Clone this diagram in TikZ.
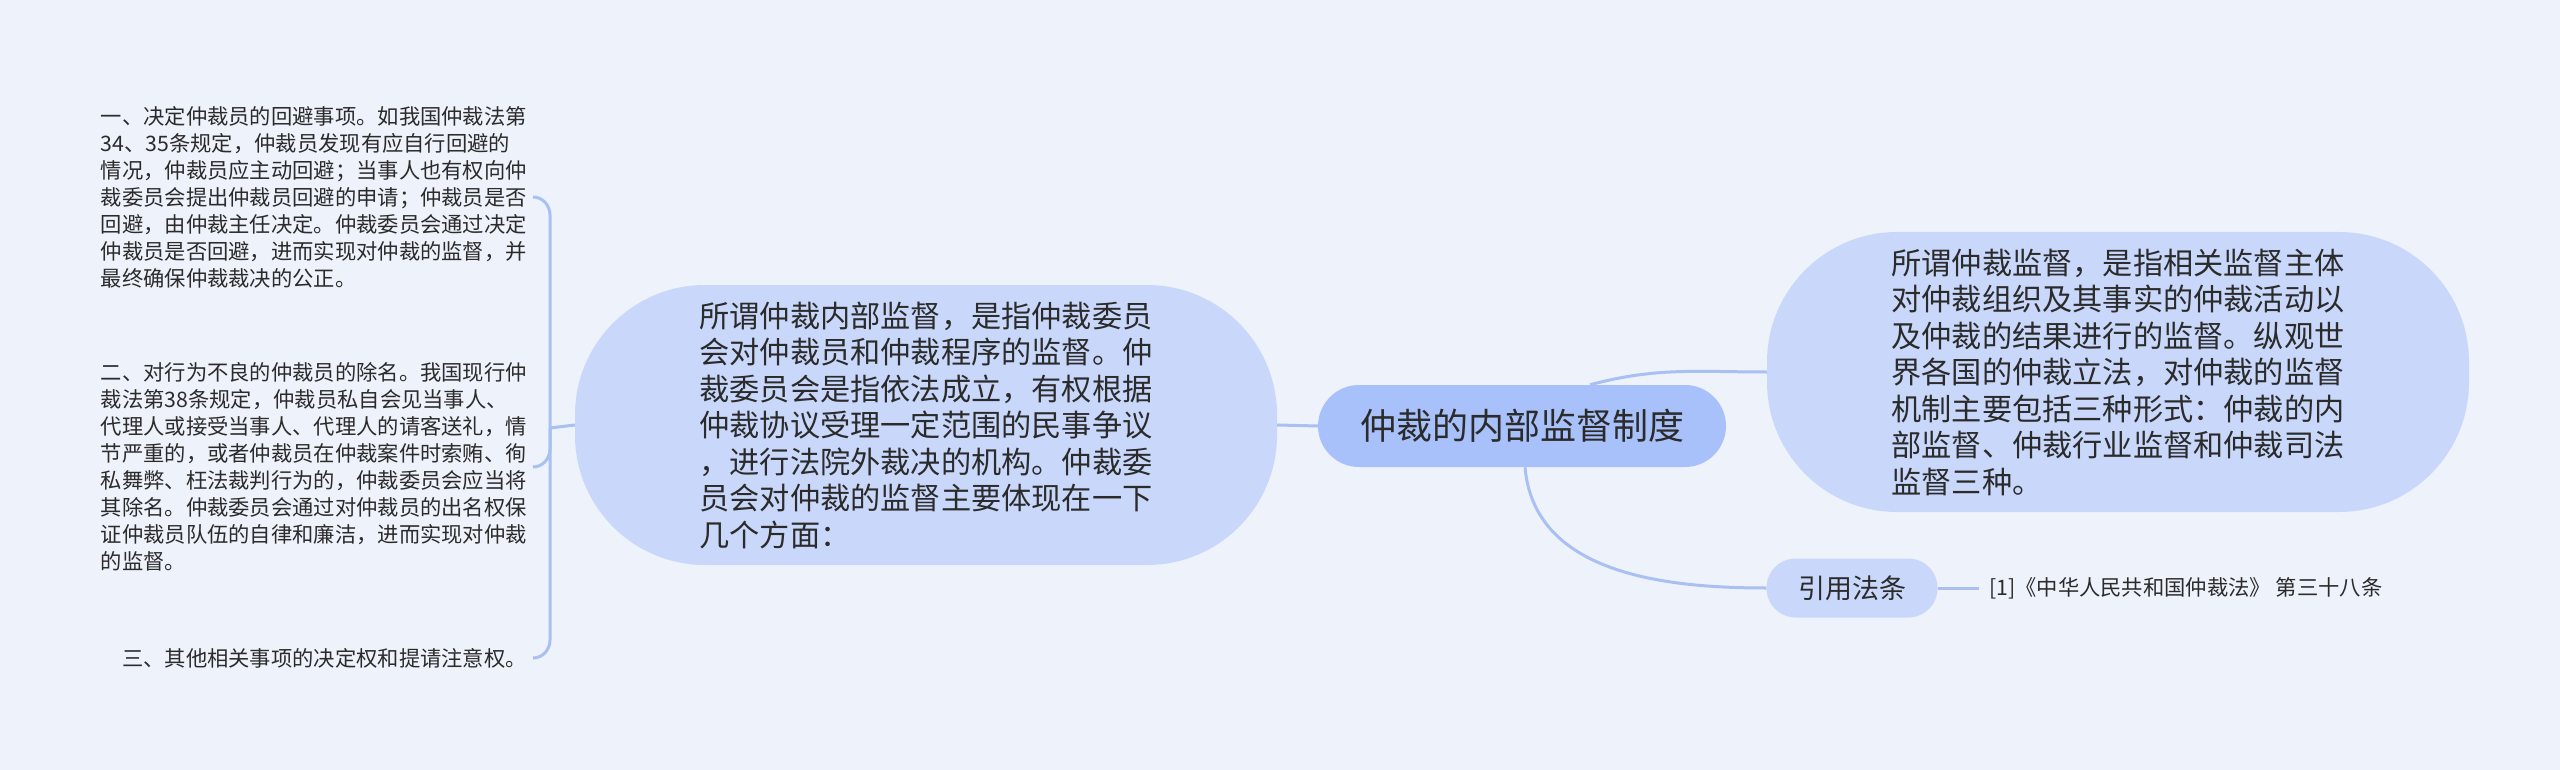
\documentclass[tikz,border=0pt]{standalone}
\usepackage{fontspec}
\setmainfont{Noto Sans CJK SC}
\definecolor{bgcol}{HTML}{EEF2FB}
\definecolor{rootcol}{HTML}{A9C1FA}
\definecolor{subcol}{HTML}{C9D8FA}
\definecolor{linecol}{HTML}{A9C0F2}
\definecolor{txtcol}{HTML}{2B2B2B}
\tikzstyle{root}=[rectangle,rounded corners=41pt,fill=rootcol,text=txtcol,minimum width=408pt,minimum height=82pt,inner sep=0pt,font=\fontsize{36}{43}\selectfont]
\tikzstyle{topic}=[rectangle,rounded corners=130pt,fill=subcol,text=txtcol,minimum width=702pt,minimum height=280pt,inner sep=0pt,align=left,font=\fontsize{30.2}{36.5}\selectfont]
\tikzstyle{tag}=[rectangle,rounded corners=29pt,fill=subcol,text=txtcol,minimum width=171pt,minimum height=59pt,inner sep=0pt,font=\fontsize{27}{32}\selectfont]
\tikzstyle{leaf}=[inner xsep=6pt,inner ysep=0pt,text=txtcol,align=left,font=\fontsize{21.3}{27}\selectfont]
\tikzstyle{link}=[draw=linecol,line width=3pt]

\begin{document}
\begin{tikzpicture}[x=1pt,y=1pt]
\fill[bgcol] (0,0) rectangle (2560,-770);
\node[root] at (1522,-426) (root) {仲裁的内部监督制度};
\node[topic] at (926,-425) (inner) {所谓仲裁内部监督，是指仲裁委员\\会对仲裁员和仲裁程序的监督。仲\\裁委员会是指依法成立，有权根据\\仲裁协议受理一定范围的民事争议\\，进行法院外裁决的机构。仲裁委\\员会对仲裁的监督主要体现在一下\\几个方面：};
\node[topic] at (2118,-372) (outer) {所谓仲裁监督，是指相关监督主体\\对仲裁组织及其事实的仲裁活动以\\及仲裁的结果进行的监督。纵观世\\界各国的仲裁立法，对仲裁的监督\\机制主要包括三种形式：仲裁的内\\部监督、仲裁行业监督和仲裁司法\\监督三种。};
\node[tag] at (1852,-588) (cite) {引用法条};
\node[leaf,anchor=west,inner xsep=10pt,font=\fontsize{21.3}{26}\selectfont] at (1979,-588) (law) {[1]《中华人民共和国仲裁法》 第三十八条};
\node[leaf,anchor=east] at (533,-197) (avoid) {一、决定仲裁员的回避事项。如我国仲裁法第\\34、35条规定，仲裁员发现有应自行回避的\\情况，仲裁员应主动回避；当事人也有权向仲\\裁委员会提出仲裁员回避的申请；仲裁员是否\\回避，由仲裁主任决定。仲裁委员会通过决定\\仲裁员是否回避，进而实现对仲裁的监督，并\\最终确保仲裁裁决的公正。};
\node[leaf,anchor=east] at (533,-467) (remove) {二、对行为不良的仲裁员的除名。我国现行仲\\裁法第38条规定，仲裁员私自会见当事人、\\代理人或接受当事人、代理人的请客送礼，情\\节严重的，或者仲裁员在仲裁案件时索贿、徇\\私舞弊、枉法裁判行为的，仲裁委员会应当将\\其除名。仲裁委员会通过对仲裁员的出名权保\\证仲裁员队伍的自律和廉洁，进而实现对仲裁\\的监督。};
\node[leaf,anchor=east] at (533,-658) (other) {三、其他相关事项的决定权和提请注意权。};
\coordinate (fork) at (550,-428);
\draw[link] (root.west) -- (inner.east);
\draw[link] ([xshift=68pt]root.north) to[out=15,in=180] (outer.west);
\draw[link] ([xshift=3pt]root.south) to[out=-85,in=180] (cite.west);
\draw[link] (cite.east) -- (law.west);
\draw[link] (inner.west) -- (fork);
\draw[link] (fork) -- ([yshift=-18pt]fork |- avoid.east) to[out=90,in=0] (avoid.east);
\draw[link] (fork) -- ([yshift=18pt]fork |- remove.east) to[out=-90,in=0] (remove.east);
\draw[link] (fork) -- ([yshift=18pt]fork |- other.east) to[out=-90,in=0] (other.east);
\end{tikzpicture}
\end{document}
